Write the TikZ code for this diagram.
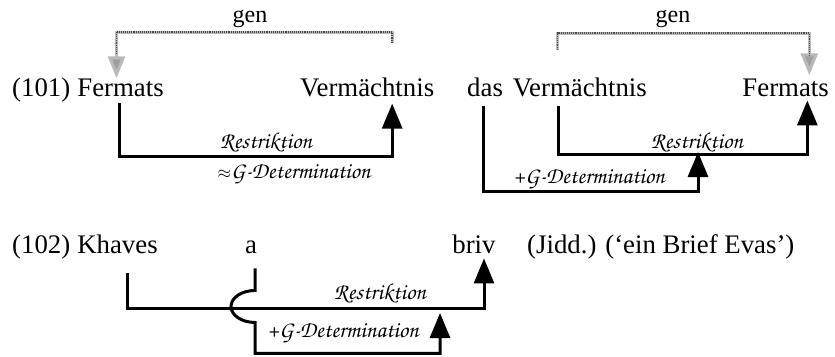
\documentclass[tikz,border=0pt]{standalone}
\usepackage[T1]{fontenc}
\usepackage{fontspec}
\setmainfont{Liberation Serif}
\usetikzlibrary{arrows.meta}
% calligraphic italic for the relation labels
\newcommand\calfont{\fontencoding{T1}\fontfamily{pzc}\fontseries{mb}\fontshape{it}\selectfont}
\newcommand\approxsign{{\fontsize{17}{18}\selectfont$\approx$}}
\tikzset{
  word/.style={inner sep=0pt, font=\fontsize{26.8}{30}\selectfont},
  genlbl/.style={inner sep=0pt, font=\fontsize{24}{28}\selectfont},
  rel/.style={inner sep=0pt, anchor=base, font=\calfont\fontsize{23}{26}\selectfont},
  link/.style={line width=3pt, draw=black, line join=miter},
  linkarrow/.style={link, -{Triangle[width=20pt,length=25pt]}},
  genline/.style={line width=3pt, draw=gray!55, line join=miter},
  genarrow/.style={genline, -{Triangle[width=17pt,length=22pt,fill=gray!75]}},
  gendots/.style={line width=1.5pt, draw=black!70, dash pattern=on 1pt off 0.9pt},
}
\begin{document}
\begin{tikzpicture}[x=1pt,y=-1pt]
\useasboundingbox (0,0) rectangle (835,356);

% ---- example (101), left half
\node[word, anchor=base west] (ex101) at (12,96) {(101)};
\node[word, anchor=base west] (fermA) at ([xshift=6.7pt]ex101.base east) {Fermats};
\node[word, anchor=base west] (vermA) at (300,96) {Vermächtnis};
\node[genlbl, anchor=base] (genA) at (250,22) {gen};

\draw[genarrow] ([xshift=25pt,yshift=34pt]vermA.north) |- (genA.south |- 0,32) -| ([xshift=-4pt]fermA.north);
\draw[gendots] ([xshift=25pt,yshift=34pt]vermA.north) |- (genA.south |- 0,32) -| ([xshift=-4pt,yshift=24pt]fermA.north);

\draw[linkarrow] ([xshift=-1pt,yshift=-7pt]fermA.south) |- (genA |- 0,156) -| ([xshift=25pt,yshift=-7pt]vermA.south);
\node[rel] (restrA) at (266,148) {Restriktion};
\node[rel] (detA) at (294,178) {\approxsign G-Determination};

% ---- example (101), right half
\node[word, anchor=base west] (das) at (467,96) {das};
\node[word, anchor=base east] (vermB) at (647,96) {Vermächtnis};
\node[word, anchor=base east] (fermB) at (829,96) {Fermats};
\node[genlbl, anchor=base] (genB) at (673,22) {gen};

\draw[genarrow] ([xshift=-22.3pt,yshift=27pt]vermB.north) |- (genB.south |- 0,33) -| ([xshift=23.7pt,yshift=3pt]fermB.north);
\draw[gendots] ([xshift=-22.3pt,yshift=27pt]vermB.north) |- (genB.south |- 0,33) -| ([xshift=23.7pt,yshift=22pt]fermB.north);

\draw[linkarrow] ([xshift=-21.3pt,yshift=-9pt]vermB.south) |- (genB |- 0,154) -| ([xshift=21.7pt,yshift=-4pt]fermB.south);
\node[rel] (restrB) at (697,148) {Restriktion};
\coordinate (detB-tip) at (698,152);
\draw[linkarrow] ([xshift=-1.7pt,yshift=-10pt]das.south) |- (vermB |- 0,191) -| (detB-tip);
\node[rel] (detB) at (589,183) {+G-Determination};

% ---- example (102)
\node[word, anchor=base west] (ex102) at (12,253) {(102)};
\node[word, anchor=base west] (khaves) at ([xshift=6.7pt]ex102.base east) {Khaves};
\node[word, anchor=base] (a) at (251,253) {a};
\node[word, anchor=base] (briv) at (474,253) {briv};
\node[word, anchor=base west] (gloss) at (527,253) {(Jidd.) (‘ein Brief Evas’)};

\draw[linkarrow] ([xshift=10pt,yshift=-20pt]khaves.south) |- (a |- 0,308) -| ([xshift=10pt,yshift=-5pt]briv.south);
\node[rel] (restrC) at (380,299) {Restriktion};

% the a-link hops over the Khaves line
\coordinate (detC-tip) at (440,313);
\draw[linkarrow] ([xshift=4pt,yshift=-15pt]a.south) -- ([xshift=4pt,yshift=-37pt]a.south)
  arc[start angle=90, end angle=270, x radius=24pt, y radius=16pt]
  -- ([xshift=4pt,yshift=-100pt]a.south) -| (detC-tip);
\node[rel] (detC) at (343,337) {+G-Determination};
\end{tikzpicture}
\end{document}
